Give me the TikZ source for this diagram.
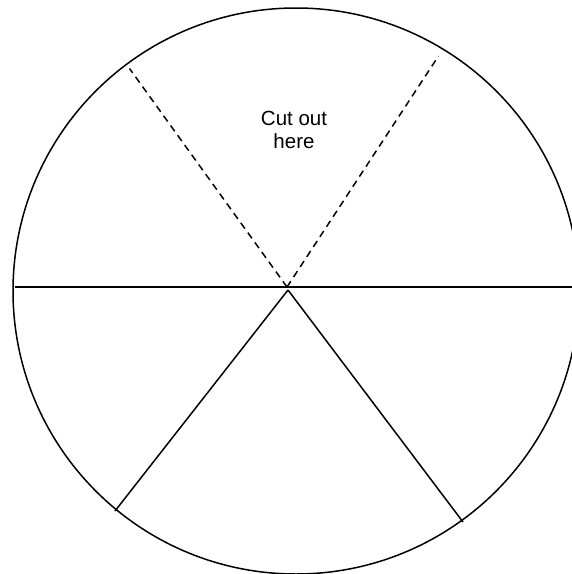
\documentclass[tikz,border=0pt]{standalone}
\usepackage{fontspec}
\setmainfont{Liberation Sans}
\usetikzlibrary{arrows}
\tikzset{
 edge/.style={line width=1.5pt},
 cut/.style={edge,dash pattern=on 7pt off 5pt},
}
\begin{document}
\begin{tikzpicture}[x=1pt,y=-1pt]
 \useasboundingbox (0,0) rectangle (572,574);
 \clip (0,0) rectangle (572,574);
 \coordinate (O) at (296,291);
 \coordinate (M) at (287,287);
 \coordinate (A) at (288,290);
 \coordinate (L) at (15,287);
 \coordinate (R) at (580,287);
 \coordinate (P1) at (129.5,68.5);
 \coordinate (P2) at (438.5,56);
 \coordinate (P3) at (115,511);
 \coordinate (P4) at (463,522);
 \node (T) at (294,130) [align=center,font=\fontsize{20.5}{23.6}\selectfont] {Cut out\\here};
 \draw [edge] (O) circle (283);
 \draw [edge] (L) -- (R);
 \draw [cut] (M) -- (P1);
 \draw [cut] (M) -- (P2);
 \draw [edge] (A) -- (P3);
 \draw [edge] (A) -- (P4);
\end{tikzpicture}
\end{document}
